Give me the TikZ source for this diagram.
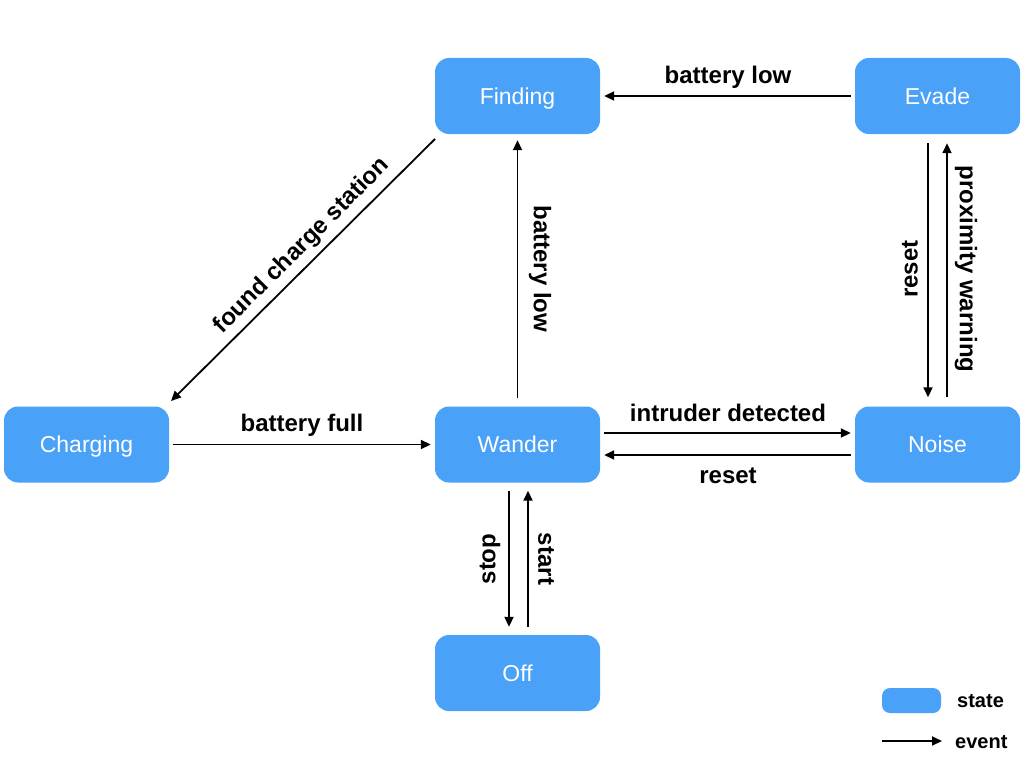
\documentclass[tikz,border=0pt]{standalone}
\usepackage{fontspec}
\setmainfont{Liberation Sans}
\usetikzlibrary{arrows.meta}
\definecolor{stateblue}{RGB}{74,161,248}
\begin{document}
\begin{tikzpicture}[x=1pt,y=-1pt,
  state/.style={fill=stateblue,draw=none,rounded corners=14pt,minimum width=165pt,minimum height=76pt,
    text=white,font=\fontsize{23}{26}\selectfont,inner sep=0pt,text height=16.5pt,text depth=0pt},
  event/.style={line width=1.8pt,-{Triangle[length=10pt,width=9pt]}},
  lbl/.style={font=\fontsize{24}{27}\selectfont\bfseries,inner sep=0pt},
  legtxt/.style={font=\fontsize{20}{23}\selectfont\bfseries,anchor=west,inner sep=0pt}]
\useasboundingbox (0,0) rectangle (1024,768);
\node[state] (finding) at (517.5,96) {Finding};
\node[state] (evade) at (937.5,96) {Evade};
\node[state] (charging) at (86.5,444.5) {Charging};
\node[state] (wander) at (517.5,444.5) {Wander};
\node[state] (noise) at (937.5,444.5) {Noise};
\node[state] (off) at (517.5,673) {Off};

% Evade -> Finding
\draw[event] ([xshift=-4pt]evade.west) -- ([xshift=4pt]finding.east);
\node[lbl] (l1) at (728,77) {battery low};
% Finding -> Charging
\coordinate (fc1) at (435,139);
\coordinate (fc2) at (171,401);
\draw[event] (fc1) -- (fc2);
\node[lbl,rotate=45] (l2) at (302,246) {found charge station};
% Charging -> Wander
\draw[event] ([xshift=4pt]charging.east) -- ([xshift=-4pt]wander.west);
\node[lbl] (l3) at (302,425) {battery full};
% Wander -> Finding
\draw[event] ([yshift=8pt]wander.north) -- ([yshift=-6pt]finding.south);
\node[lbl,rotate=-90] (l4) at (540,269) {battery low};
% Wander -> Noise
\draw[event] ([xshift=4pt,yshift=11.5pt]wander.east) -- ([xshift=-4pt,yshift=11.5pt]noise.west);
\node[lbl] (l5) at (728,413) {intruder detected};
% Noise -> Wander
\draw[event] ([xshift=-4pt,yshift=-10.5pt]noise.west) -- ([xshift=4pt,yshift=-10.5pt]wander.east);
\node[lbl] (l6) at (728,476) {reset};
% Evade -> Noise
\draw[event] ([xshift=-9.5pt,yshift=-9pt]evade.south) -- ([xshift=-9.5pt,yshift=9pt]noise.north);
\node[lbl,rotate=90] (l7) at (910,269) {reset};
% Noise -> Evade
\draw[event] ([xshift=9.5pt,yshift=9pt]noise.north) -- ([xshift=9.5pt,yshift=-9pt]evade.south);
\node[lbl,rotate=-90] (l8) at (966,269) {proximity warning};
% Wander -> Off
\draw[event] ([xshift=-8.5pt,yshift=-8pt]wander.south) -- ([xshift=-8.5pt,yshift=8pt]off.north);
\node[lbl,rotate=90] (l9) at (490,559) {stop};
% Off -> Wander
\draw[event] ([xshift=10.5pt,yshift=8pt]off.north) -- ([xshift=10.5pt,yshift=-8pt]wander.south);
\node[lbl,rotate=-90] (l10) at (546,559) {start};

% legend
\node[fill=stateblue,rounded corners=8pt,minimum width=59pt,minimum height=25pt,inner sep=0pt] (legstate) at (911.5,700.5) {};
\node[legtxt] (legstatetxt) at (957,701) {state};
\coordinate (ev1) at (882,741);
\coordinate (ev2) at (942,741);
\draw[event] (ev1) -- (ev2);
\node[legtxt] (legeventtxt) at (955,742) {event};
\end{tikzpicture}
\end{document}
